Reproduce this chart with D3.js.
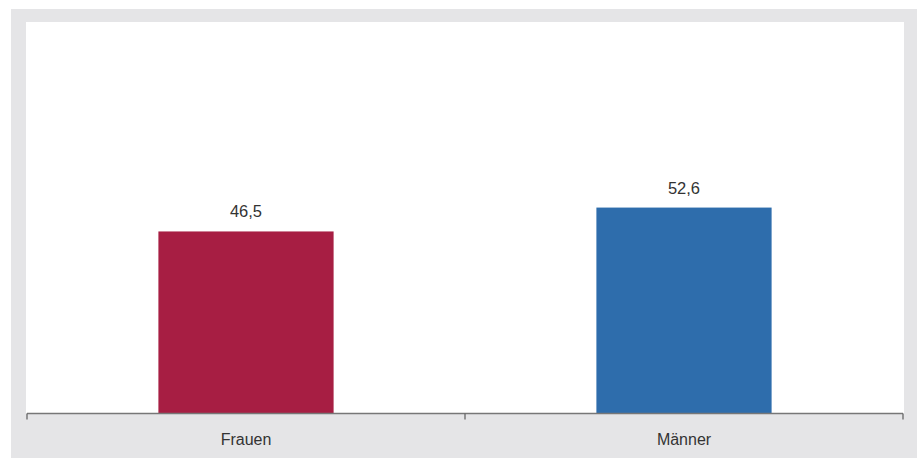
<!DOCTYPE html>
<html><head><meta charset="utf-8">
<script src="https://cdn.jsdelivr.net/npm/d3@7"></script>
<style>html,body{margin:0;padding:0;background:#fff;}svg{display:block;}</style>
</head><body>
<svg id="chart" width="917" height="459"></svg>
<script>
const categories = ["Frauen", "Männer"];
const values = [46.5, 52.6];
const barColors = ["#a71e43", "#2e6dac"];
const valueLabels = ["46,5", "52,6"];

const svg = d3.select("#chart");
const W = 917, H = 459;
const plot = {left: 27, right: 903, top: 22, bottom: 413.5};

svg.append("rect").attr("x", 11).attr("y", 9).attr("width", W - 11).attr("height", 449).attr("fill", "#e5e5e7");
svg.append("rect").attr("x", plot.left - 1).attr("y", plot.top).attr("width", plot.right - plot.left + 2).attr("height", plot.bottom - plot.top).attr("fill", "#fff");

const x = d3.scaleBand().domain(categories).range([plot.left, plot.right]).padding(0);
const y = d3.scaleLinear().domain([0, 100]).range([plot.bottom, plot.top]);
const barFrac = 0.4;

const g = svg.append("g");
g.selectAll("rect.bar").data(categories).enter().append("rect")
  .attr("class", "bar")
  .attr("x", d => x(d) + x.bandwidth() * (1 - barFrac) / 2)
  .attr("width", x.bandwidth() * barFrac)
  .attr("y", (d, i) => y(values[i]))
  .attr("height", (d, i) => y(0) - y(values[i]))
  .attr("fill", (d, i) => barColors[i]);

g.selectAll("text.val").data(categories).enter().append("text")
  .attr("x", d => x(d) + x.bandwidth() / 2)
  .attr("y", (d, i) => y(values[i]) - 14)
  .attr("text-anchor", "middle")
  .attr("font-family", "Arial, 'Liberation Sans', sans-serif")
  .attr("font-size", 16.5)
  .attr("fill", "#333")
  .text((d, i) => valueLabels[i]);

// axis
const axisG = svg.append("g").attr("transform", `translate(0,${plot.bottom})`);
axisG.append("line").attr("x1", plot.left).attr("x2", plot.right).attr("y1", 0).attr("y2", 0)
  .attr("stroke", "#777").attr("stroke-width", 1.3);
const tickPos = categories.map(c => x(c)).concat([x(categories[categories.length - 1]) + x.bandwidth()]);
axisG.selectAll("line.tick").data(tickPos).enter().append("line")
  .attr("x1", d => d).attr("x2", d => d).attr("y1", 0).attr("y2", 6)
  .attr("stroke", "#666").attr("stroke-width", 1.3);
axisG.selectAll("text.cat").data(categories).enter().append("text")
  .attr("x", d => x(d) + x.bandwidth() / 2)
  .attr("y", 31)
  .attr("text-anchor", "middle")
  .attr("font-family", "Arial, 'Liberation Sans', sans-serif")
  .attr("font-size", 16)
  .attr("fill", "#333")
  .text(d => d);
</script>
</body></html>
